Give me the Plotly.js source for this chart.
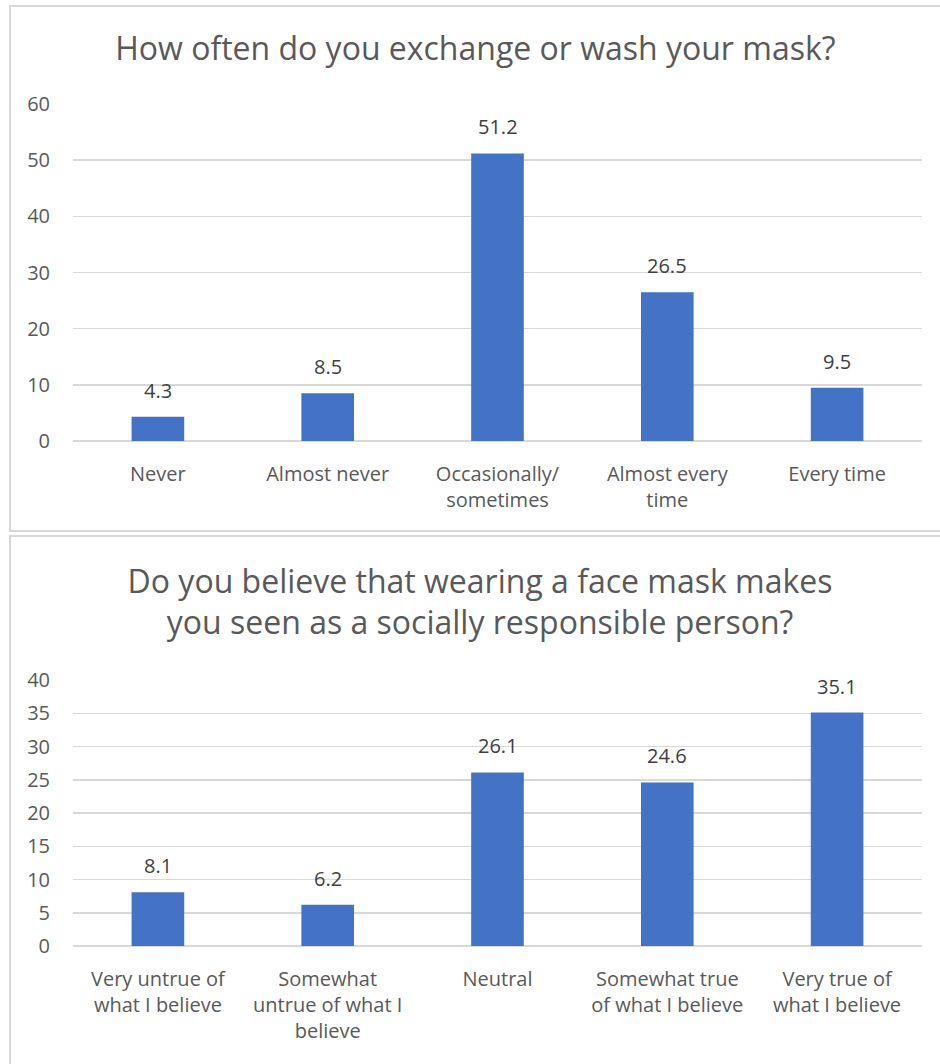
<!DOCTYPE html>
<html>
<head>
<meta charset="utf-8">
<script src="https://cdn.plot.ly/plotly-3.0.1.min.js"></script>
<style>
  html, body { margin: 0; padding: 0; background: #ffffff; overflow: hidden; }
  .panel { position: absolute; border: 2px solid #d9d9d9; background: #ffffff; }
  #top { left: 9px; top: 5px; width: 940px; height: 523px; }
  #bottom { left: 9px; top: 535px; width: 940px; height: 540px; }
</style>
</head>
<body>
<div id="top" class="panel"></div>
<div id="bottom" class="panel"></div>
<script>
// Survey question 1: mask exchange / washing frequency (%)
const washCategories = ["Never", "Almost never", "Occasionally/<br>sometimes", "Almost every<br>time", "Every time"];
const washValues = [4.3, 8.5, 51.2, 26.5, 9.5];
const washTicks = [0, 10, 20, 30, 40, 50, 60];

// Survey question 2: mask wearing and social responsibility (%)
const respCategories = ["Very untrue of<br>what I believe", "Somewhat<br>untrue of what I<br>believe", "Neutral", "Somewhat true<br>of what I believe", "Very true of<br>what I believe"];
const respValues = [8.1, 6.2, 26.1, 24.6, 35.1];
const respTicks = [0, 5, 10, 15, 20, 25, 30, 35, 40];

const FONT = "Open Sans, sans-serif";
const BAR_COLOR = "#4472c4";
const GRID = "#d9d9d9";

function valueLabels(cats, vals) {
  return cats.map((c, i) => ({
    x: c, y: vals[i], xref: "x", yref: "y",
    text: vals[i].toFixed(1), showarrow: false,
    yanchor: "bottom", yshift: 11,
    font: { family: FONT, size: 20, color: "#404040" }
  }));
}

function drawChart(el, cats, vals, ticks, title, margin, titleX, titleY) {
  const trace = {
    type: "bar", x: cats, y: vals,
    marker: { color: BAR_COLOR },
    hoverinfo: "skip"
  };
  const layout = {
    width: 940, height: margin.h,
    margin: { l: margin.l, r: margin.r, t: margin.t, b: margin.b, pad: 0 },
    paper_bgcolor: "#ffffff", plot_bgcolor: "#ffffff",
    showlegend: false,
    bargap: 0.69,
    title: {
      text: title, x: titleX, xref: "container", xanchor: "center",
      y: titleY, yref: "container", yanchor: "middle",
      font: { family: FONT, size: 32, color: "#595959" }
    },
    xaxis: {
      type: "category",
      showgrid: false, zeroline: false, showline: false,
      ticks: "", ticklabelstandoff: 19,
      tickfont: { family: FONT, size: 20, color: "#595959" },
      fixedrange: true
    },
    yaxis: {
      range: [ticks[0], ticks[ticks.length - 1]],
      tickvals: ticks,
      showgrid: true, gridcolor: GRID, gridwidth: 1.5,
      zeroline: true, zerolinecolor: GRID, zerolinewidth: 1.5,
      showline: false, ticks: "", ticklabelstandoff: 22,
      tickfont: { family: FONT, size: 20, color: "#595959" },
      fixedrange: true
    },
    annotations: valueLabels(cats, vals)
  };
  Plotly.newPlot(el, [trace], layout, { displayModeBar: false, staticPlot: true });
}

drawChart("top", washCategories, washValues, washTicks,
  "How often do you exchange or wash your mask?",
  { l: 62, r: 29, t: 97, b: 89, h: 523 }, 0.494, 0.92);

drawChart("bottom", respCategories, respValues, respTicks,
  "Do you believe that wearing a face mask makes<br>you seen as a socially responsible person?",
  { l: 62, r: 29, t: 143, b: 131, h: 540 }, 0.499, 0.897);
</script>
</body>
</html>
